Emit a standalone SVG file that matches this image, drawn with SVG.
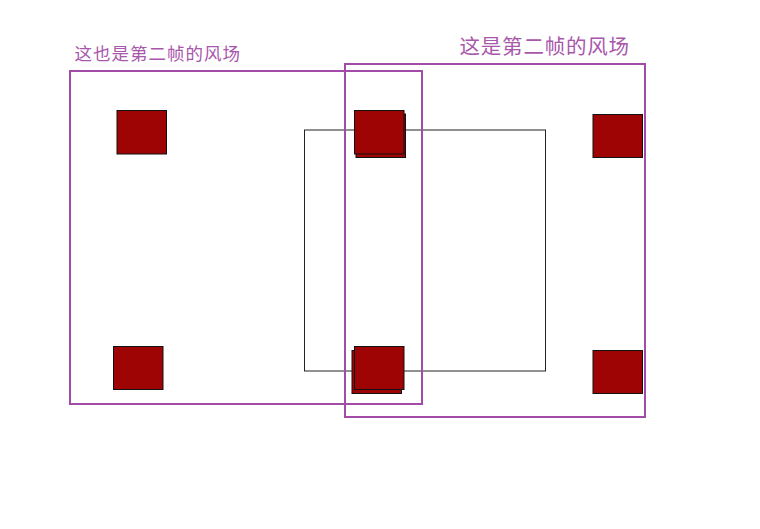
<svg xmlns="http://www.w3.org/2000/svg" width="760" height="529" viewBox="0 0 760 529">
<style>
.frame{fill:none;stroke:#a24ca8;stroke-width:2}
.box{fill:none;stroke:#222;stroke-width:1}
.sq{fill:#9e0404;stroke:#111;stroke-width:1}
.lbl{fill:#a957ab;font-family:"Noto Sans CJK SC","Noto Sans",sans-serif}
</style>
<rect width="760" height="529" fill="#fff"/>
<g id="grid-box"><rect class="box" x="304.5" y="130" width="241" height="241"/></g>
<g id="frame-left">
<rect class="frame" x="70" y="71" width="352" height="333"/>
<text class="lbl" x="74.5" y="60" font-size="17.5" letter-spacing="1">这也是第二帧的风场</text>
</g>
<g id="frame-right">
<rect class="frame" x="345" y="64" width="300" height="353"/>
<text class="lbl" x="459.5" y="54" font-size="20.5" letter-spacing="0.8">这是第二帧的风场</text>
</g>
<g id="sq-tl"><rect class="sq" x="117" y="110.5" width="49.5" height="43.5"/></g>
<g id="sq-bl"><rect class="sq" x="113.5" y="346.5" width="49.5" height="43"/></g>
<g id="sq-tm-back"><rect class="sq" x="356" y="114" width="49.5" height="43.5"/></g>
<g id="sq-tm"><rect class="sq" x="354.5" y="110.5" width="49.5" height="43.5"/></g>
<g id="sq-bm-back"><rect class="sq" x="352" y="350.5" width="49.5" height="43"/></g>
<g id="sq-bm"><rect class="sq" x="354.5" y="346.5" width="49.5" height="43"/></g>
<g id="sq-tr"><rect class="sq" x="593" y="114.5" width="49.5" height="43"/></g>
<g id="sq-br"><rect class="sq" x="593" y="350.5" width="49.5" height="43"/></g>
<g id="connectors"></g>
</svg>
